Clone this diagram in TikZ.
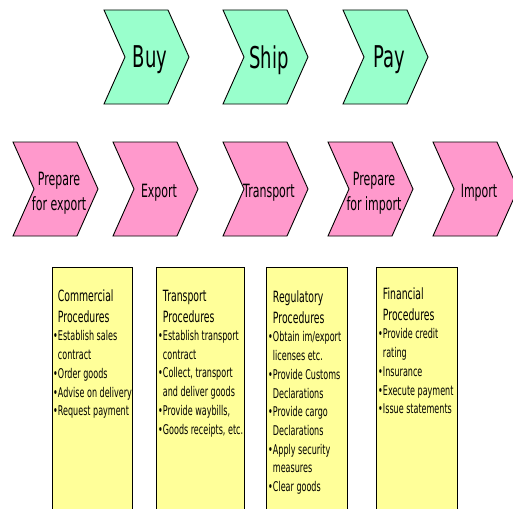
\documentclass[tikz,border=0pt]{standalone}
\usepackage{fontspec}
\usepackage{tikz}

% narrow sans for all labels
\newfontfamily\chevfont[FakeStretch=0.6]{DejaVu Sans}

\definecolor{phasegreen}{RGB}{153,255,204}
\definecolor{steppink}{RGB}{255,153,204}
\definecolor{procyellow}{RGB}{255,255,153}

\newcommand{\bul}{\textbullet}
\newcommand{\cont}{\hphantom{\textbullet}}
\newcommand{\prochead}[1]{\cont{\fontsize{15.5}{18.7}\selectfont #1}}

\tikzset{
  chevron/.style={draw=black, line width=0.9pt, line join=miter},
  phaselabel/.style={font=\chevfont\fontsize{30}{34}\selectfont, inner sep=0pt},
  steplabel/.style={font=\chevfont\fontsize{18.3}{25}\selectfont, align=center, inner sep=0pt},
  procbox/.style={draw=black, line width=0.8pt, fill=procyellow, anchor=north west,
    minimum height=260pt, inner sep=0pt},
  proctext/.style={anchor=north west, align=left, inner sep=0pt,
    font=\chevfont\fontsize{13.4}{18.7}\selectfont},
}

\begin{document}
\begin{tikzpicture}[x=1pt, y=-1pt]
    \clip (0,0) rectangle (513,508);
    \fill[white] (0,0) rectangle (513,508);

    % buy - ship - pay
    \foreach \nm/\lx/\txt in {buy/104/Buy, ship/223/Ship, pay/343/Pay} {
        \filldraw[chevron, fill=phasegreen] (\lx,10) -- ++(64,0) -- ++(21,47) -- ++(-21,47)
            -- ++(-64,0) -- ++(21,-47) -- cycle;
        \node[phaselabel] (\nm) at (\lx+46,60) {\txt};
    }

    % the chain of steps
    \foreach \nm/\lx/\txt in {prepexp/13/{Prepare\\for export}, export/113/Export,
                              transport/223/Transport, prepimp/328/{Prepare\\for import},
                              import/433/Import} {
        \filldraw[chevron, fill=steppink] (\lx,142) -- ++(64,0) -- ++(21,47) -- ++(-21,47)
            -- ++(-64,0) -- ++(21,-47) -- cycle;
        \node[steplabel] (\nm) at (\lx+46,193) {\txt};
    }

    % procedure boxes
    \node[procbox, minimum width=80pt] (comm) at (52,267) {};
    \node[procbox, minimum width=88pt] (trans) at (156,267) {};
    \node[procbox, minimum width=81pt] (regul) at (266,267) {};
    \node[procbox, minimum width=81pt] (fin) at (376,267) {};

    \node[proctext] (commtext) at ([xshift=1pt, yshift=-23pt]comm.north west) {%
        \prochead{Commercial}\\[2.3pt]
        \prochead{Procedures}\\[-0.7pt]
        \bul Establish sales\\
        \cont contract\\
        \bul Order goods\\
        \bul Advise on delivery\\
        \bul Request payment};

    \node[proctext] (transtext) at ([xshift=2pt, yshift=-23pt]trans.north west) {%
        \prochead{Transport}\\[2.3pt]
        \prochead{Procedures}\\[-0.7pt]
        \bul Establish transport\\
        \cont contract\\
        \bul Collect, transport\\
        \cont and deliver goods\\
        \bul Provide waybills,\\
        \bul Goods receipts, etc.};

    \node[proctext] (regultext) at ([xshift=2pt, yshift=-24pt]regul.north west) {%
        \prochead{Regulatory}\\[2.3pt]
        \prochead{Procedures}\\[-0.7pt]
        \bul Obtain im/export\\
        \cont licenses etc.\\
        \bul Provide Customs\\
        \cont Declarations\\
        \bul Provide cargo\\
        \cont Declarations\\
        \bul Apply security\\
        \cont measures\\
        \bul Clear goods};

    \node[proctext] (fintext) at ([xshift=2pt, yshift=-21pt]fin.north west) {%
        \prochead{Financial}\\[2.3pt]
        \prochead{Procedures}\\[-0.7pt]
        \bul Provide credit\\
        \cont rating\\
        \bul Insurance\\
        \bul Execute payment\\
        \bul Issue statements};
\end{tikzpicture}
\end{document}
